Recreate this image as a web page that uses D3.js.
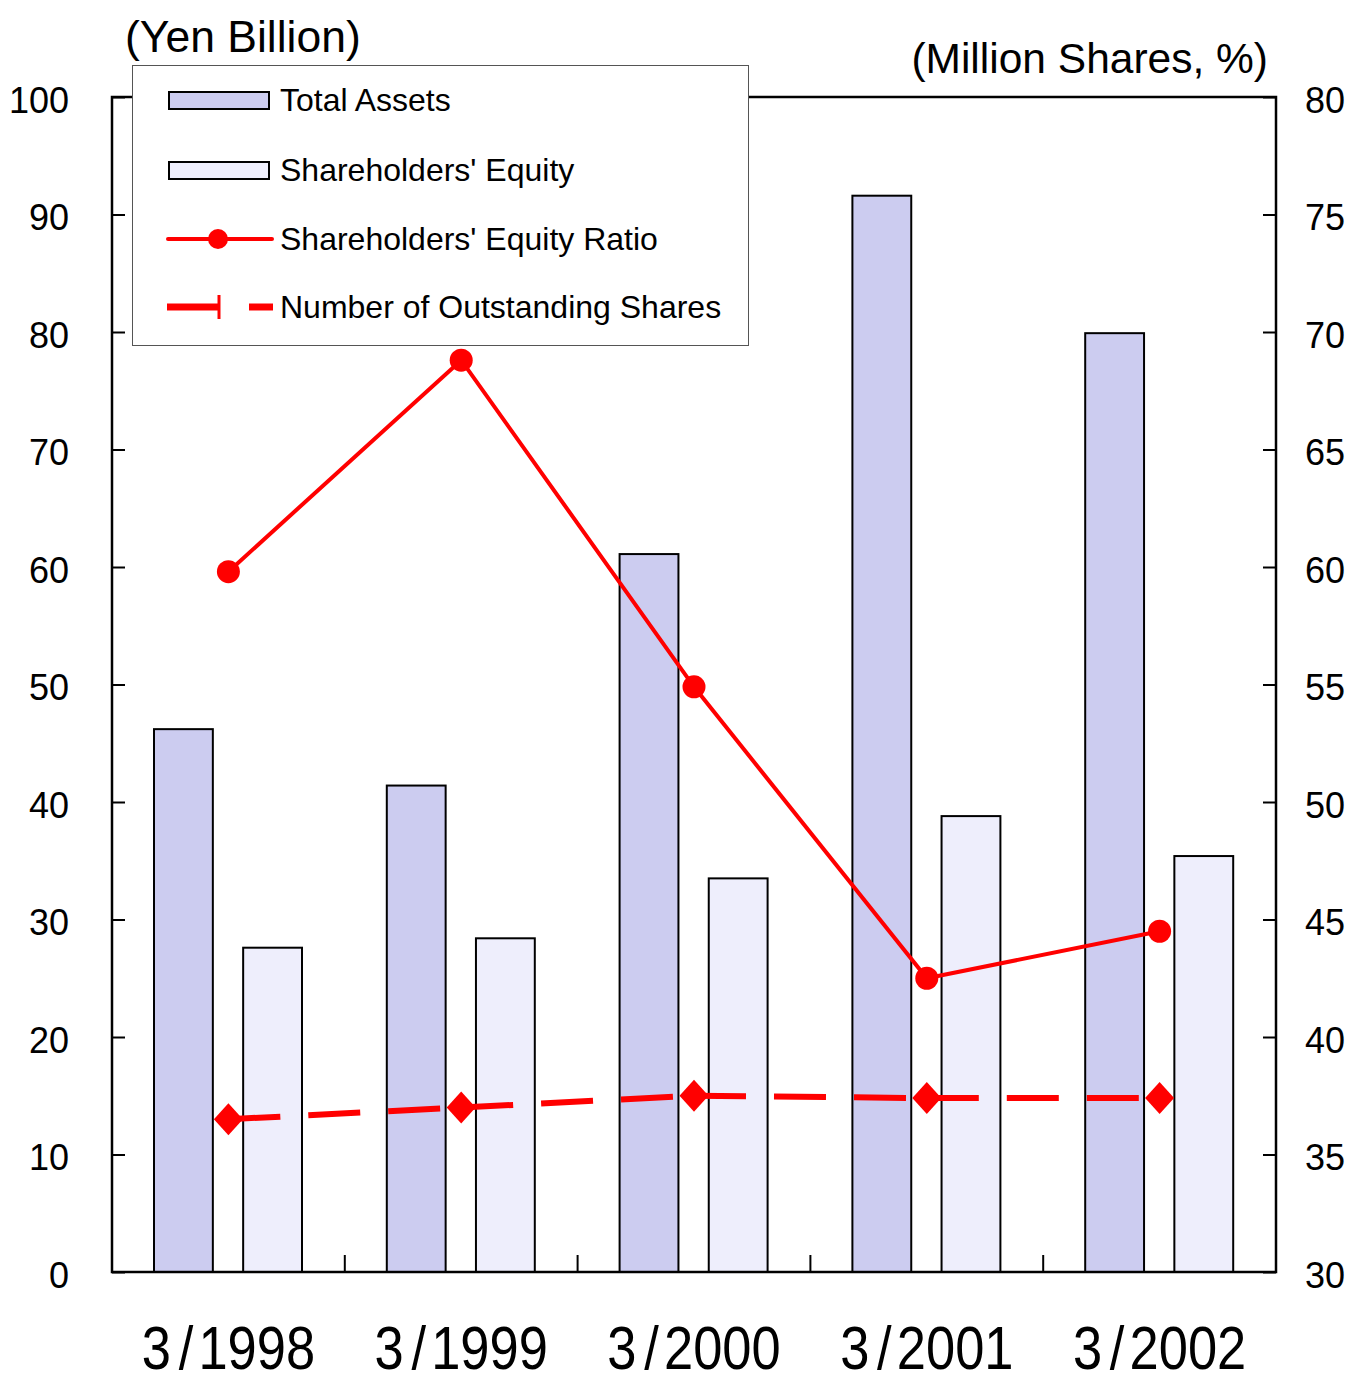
<!DOCTYPE html>
<html>
<head>
<meta charset="utf-8">
<script src="https://cdn.jsdelivr.net/npm/d3@7"></script>
<style>
  body { margin: 0; background: #fff; }
  svg { display: block; font-family: "Liberation Sans", Arial, sans-serif; }
</style>
</head>
<body>
<svg id="chart"></svg>
<script>
var categories = ['3/1998', '3/1999', '3/2000', '3/2001', '3/2002'];
var totalAssets = [46.2, 41.4, 61.1, 91.6, 79.9];
var equity = [27.6, 28.4, 33.5, 38.8, 35.4];
var equityRatio = [59.8, 68.8, 54.9, 42.5, 44.5];
var shares = [36.5, 37.0, 37.5, 37.4, 37.4];
var leftTicks = [0, 10, 20, 30, 40, 50, 60, 70, 80, 90, 100];
var rightTicks = [30, 35, 40, 45, 50, 55, 60, 65, 70, 75, 80];

var W = 1349, H = 1375;
var L = 112, R = 1276, T = 97, B = 1272;

var svg = d3.select('#chart')
    .attr('width', W)
    .attr('height', H);

var x = d3.scaleBand().domain(categories).range([L, R]);
var sub = d3.scaleBand().domain(['assets', 'equity']).range([42, 190]).paddingInner(0.34);
var yL = d3.scaleLinear().domain([0, 100]).range([B, T]);
var yR = d3.scaleLinear().domain([30, 80]).range([B, T]);

// bars
var groups = svg.append('g').selectAll('g')
    .data(categories)
    .enter().append('g')
    .attr('transform', function(d) { return 'translate(' + x(d) + ',0)'; });

groups.append('rect')
    .attr('x', sub('assets'))
    .attr('width', sub.bandwidth())
    .attr('y', function(d, i) { return yL(totalAssets[i]); })
    .attr('height', function(d, i) { return B - yL(totalAssets[i]); })
    .attr('fill', '#ccccf0')
    .attr('stroke', '#000')
    .attr('stroke-width', 2);

groups.append('rect')
    .attr('x', sub('equity'))
    .attr('width', sub.bandwidth())
    .attr('y', function(d, i) { return yL(equity[i]); })
    .attr('height', function(d, i) { return B - yL(equity[i]); })
    .attr('fill', '#eeeefc')
    .attr('stroke', '#000')
    .attr('stroke-width', 2);

// frame + axes
var leftAxis = d3.axisLeft(yL).tickValues(leftTicks).tickSize(-13).tickPadding(43);
var gl = svg.append('g').attr('transform', 'translate(' + L + ',0)').call(leftAxis);
var rightAxis = d3.axisRight(yR).tickValues(rightTicks).tickSize(-13).tickPadding(29);
var gr = svg.append('g').attr('transform', 'translate(' + R + ',0)').call(rightAxis);
var bottomAxis = d3.axisBottom(x).tickSize(0).tickFormat('');
var gb = svg.append('g').attr('transform', 'translate(0,' + B + ')').call(bottomAxis);

[gl, gr, gb].forEach(function(g) {
    g.select('.domain').remove();
    g.selectAll('.tick line').attr('stroke', '#000').attr('stroke-width', 2);
    g.selectAll('.tick text').attr('font-size', 36).attr('fill', '#000').attr('dy', '0.42em')
        .attr('font-family', '"Liberation Sans", Arial, sans-serif');
});
gl.selectAll('.tick text').attr('text-anchor', 'end');
gr.selectAll('.tick text').attr('text-anchor', 'start');

// category separators on x axis
svg.append('g').selectAll('line')
    .data(categories.slice(1))
    .enter().append('line')
    .attr('x1', function(d) { return x(d); })
    .attr('x2', function(d) { return x(d); })
    .attr('y1', B)
    .attr('y2', B - 17)
    .attr('stroke', '#000')
    .attr('stroke-width', 2);

svg.append('rect')
    .attr('x', L).attr('y', T)
    .attr('width', R - L).attr('height', B - T)
    .attr('fill', 'none')
    .attr('stroke', '#000')
    .attr('stroke-width', 2.5);

// x labels
svg.append('g').selectAll('text')
    .data(categories)
    .enter().append('text')
    .attr('transform', function(d) { return 'translate(' + (x(d) + x.bandwidth() / 2) + ',1369) scale(0.86,1)'; })
    .attr('text-anchor', 'middle')
    .attr('font-size', 61)
    .attr('fill', '#000')
    .each(function(d) {
        var p = d.split('/');
        var t = d3.select(this);
        t.append('tspan').text(p[0]);
        t.append('tspan').attr('dx', 9).text('/');
        t.append('tspan').attr('dx', 6).text(p[1]);
    });

// equity ratio line
var cx = function(i) { return x(categories[i]) + x.bandwidth() / 2; };
var ratioLine = d3.line()
    .x(function(d, i) { return cx(i); })
    .y(function(d) { return yR(d); });

svg.append('path')
    .attr('d', ratioLine(equityRatio))
    .attr('fill', 'none')
    .attr('stroke', '#ff0000')
    .attr('stroke-width', 4);

svg.append('g').selectAll('circle')
    .data(equityRatio)
    .enter().append('circle')
    .attr('cx', function(d, i) { return cx(i); })
    .attr('cy', function(d) { return yR(d); })
    .attr('r', 11.5)
    .attr('fill', '#ff0000');

// outstanding shares dashed line (pattern restarts per segment)
var pts = shares.map(function(d, i) { return [cx(i), yR(d)]; });
svg.append('g').selectAll('line')
    .data(d3.pairs(pts))
    .enter().append('line')
    .attr('x1', function(d) { return d[0][0]; })
    .attr('y1', function(d) { return d[0][1]; })
    .attr('x2', function(d) { return d[1][0]; })
    .attr('y2', function(d) { return d[1][1]; })
    .attr('stroke', '#ff0000')
    .attr('stroke-width', 6)
    .attr('stroke-dasharray', '52,28');

svg.append('g').selectAll('path')
    .data(pts)
    .enter().append('path')
    .attr('transform', function(d) { return 'translate(' + d[0] + ',' + d[1] + ')'; })
    .attr('d', 'M0,-16L14.5,0L0,16L-14.5,0Z')
    .attr('fill', '#ff0000');

// axis titles
svg.append('text')
    .attr('x', 125).attr('y', 52)
    .attr('font-size', 44.5)
    .attr('fill', '#000')
    .text('(Yen Billion)');

svg.append('text')
    .attr('x', 1268).attr('y', 73)
    .attr('text-anchor', 'end')
    .attr('font-size', 42.5)
    .attr('fill', '#000')
    .text('(Million Shares, %)');

// legend
var lg = svg.append('g');
lg.append('rect')
    .attr('x', 132.5).attr('y', 65.5)
    .attr('width', 616).attr('height', 280)
    .attr('fill', '#fff')
    .attr('stroke', '#555')
    .attr('stroke-width', 1);

var legendItems = ['Total Assets', "Shareholders' Equity", "Shareholders' Equity Ratio", 'Number of Outstanding Shares'];
var legendY = [100, 170, 239, 307];

lg.append('rect').attr('x', 169).attr('y', 92).attr('width', 100).attr('height', 17)
    .attr('fill', '#ccccf0').attr('stroke', '#000').attr('stroke-width', 2);
lg.append('rect').attr('x', 169).attr('y', 162).attr('width', 100).attr('height', 17)
    .attr('fill', '#eeeefc').attr('stroke', '#000').attr('stroke-width', 2);
lg.append('line').attr('x1', 168).attr('x2', 272).attr('y1', legendY[2]).attr('y2', legendY[2])
    .attr('stroke', '#ff0000').attr('stroke-width', 4).attr('stroke-linecap', 'round');
lg.append('circle').attr('cx', 218).attr('cy', legendY[2]).attr('r', 10).attr('fill', '#ff0000');
lg.append('line').attr('x1', 167).attr('x2', 220).attr('y1', legendY[3]).attr('y2', legendY[3])
    .attr('stroke', '#ff0000').attr('stroke-width', 7);
lg.append('line').attr('x1', 219).attr('x2', 219).attr('y1', legendY[3] - 12).attr('y2', legendY[3] + 12)
    .attr('stroke', '#ff0000').attr('stroke-width', 3);
lg.append('line').attr('x1', 249).attr('x2', 273).attr('y1', legendY[3]).attr('y2', legendY[3])
    .attr('stroke', '#ff0000').attr('stroke-width', 7);

lg.selectAll('text.item')
    .data(legendItems)
    .enter().append('text')
    .attr('class', 'item')
    .attr('x', 280)
    .attr('y', function(d, i) { return legendY[i] + 11; })
    .attr('font-size', 32)
    .attr('fill', '#000')
    .text(function(d) { return d; });
</script>
</body>
</html>
